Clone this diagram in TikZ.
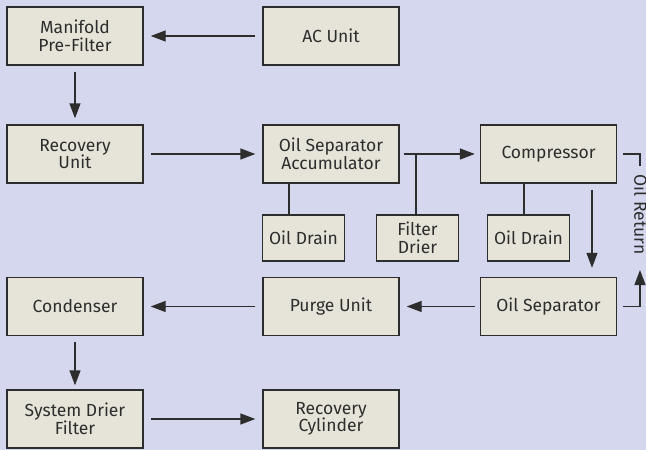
\documentclass[tikz,border=0pt]{standalone}
\usepackage{fontspec}
\setmainfont{Fira Sans}
\usetikzlibrary{arrows.meta}
\definecolor{bg}{RGB}{213,215,238}
\definecolor{boxfill}{RGB}{230,228,216}
\definecolor{ink}{RGB}{45,45,45}
\tikzset{
  blk/.style={draw=ink, line width=1.4pt, fill=boxfill, inner sep=0pt, align=center,
    font=\fontsize{17.5}{17.5}\selectfont, text=ink},
  big/.style={blk, minimum width=136pt, minimum height=58pt},
  small/.style={blk, minimum width=82pt, minimum height=46pt},
  link/.style={draw=ink, line width=1.4pt},
  arr/.style={link, -{Triangle[length=15pt,width=11pt]}},
}
\begin{document}
\begin{tikzpicture}[x=1pt,y=-1pt]
\fill[bg] (0,0) rectangle (646,450);
\useasboundingbox (0,0) rectangle (646,450);
\node[big] (mf) at (75,36) {Manifold\\Pre-Filter};
\node[big] (ac) at (331,36) {AC Unit};
\node[big] (ru) at (75,154) {Recovery\\Unit};
\node[big] (osa) at (331,154) {Oil Separator\\Accumulator};
\node[big] (cp) at (548.5,154) {Compressor};
\node[small] (od1) at (303.5,238) {Oil Drain};
\node[small] (fd) at (417.5,238) {Filter\\Drier};
\node[small] (od2) at (528.5,238) {Oil Drain};
\node[big] (cd) at (75,306.5) {Condenser};
\node[big] (pu) at (331,306.5) {Purge Unit};
\node[big] (os) at (548.5,306.5) {Oil Separator};
\node[big] (sd) at (75,419) {System Drier\\Filter};
\node[big] (rc) at (331,419) {Recovery\\Cylinder};

\draw[arr, shorten <=7pt, shorten >=7pt] (ac) -- (mf);
\draw[arr, shorten <=6pt, shorten >=6pt] (mf) -- (ru);
\draw[arr, shorten <=7pt, shorten >=7pt] (ru) -- (osa);
\coordinate (br) at (416,154);
\draw[arr, shorten <=4pt, shorten >=5pt] (osa) -- (cp);
\draw[link] (br) -- (br |- fd.north);
\draw[link] (od1.north -| 289,0) -- (289,0 |- osa.south);
\draw[link] (od2.north -| 524,0) -- (524,0 |- cp.south);
\coordinate (cpa) at ([shift={(43.5,0)}]cp.south);
\coordinate (osb) at ([shift={(43.5,0)}]os.north);
\draw[arr, shorten <=6pt, shorten >=9pt] (cpa) -- (osb);
\draw[arr, shorten <=5pt, shorten >=7pt] (os) -- (pu);
\draw[arr, shorten <=7pt, shorten >=7pt] (pu) -- (cd);
\draw[arr, shorten <=6pt, shorten >=4pt] (cd) -- (sd);
\draw[arr, shorten <=7pt, shorten >=7pt] (sd) -- (rc);

% Oil return
\coordinate (r1) at ([xshift=6pt]cp.east);
\coordinate (r2) at (640,154);
\coordinate (r3) at (640,166);
\coordinate (r4) at (640,270);
\coordinate (r5) at (640,306.5);
\coordinate (r6) at ([xshift=6pt]os.east);
\draw[link] (r1) -- (r2) -- (r3);
\draw[arr] (r6) -- (r5) -- (r4);
\node[font=\fontsize{17.5}{17.5}\selectfont, text=ink, rotate=-90, inner sep=0pt] (ret) at (641,214.5) {Oil Return};
\end{tikzpicture}
\end{document}
